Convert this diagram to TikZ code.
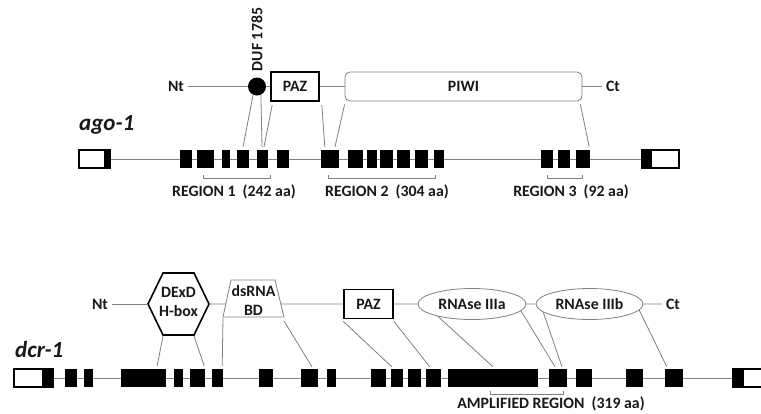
\documentclass[tikz,border=0pt]{standalone}
\usepackage{fontspec}
\setmainfont{Carlito}
\usetikzlibrary{shapes.geometric,calc}
\definecolor{linegray}{gray}{0.5}
\definecolor{textgray}{gray}{0.1}
\tikzset{
    exon/.style={fill=black, inner sep=0pt, minimum height=18pt},
    utr/.style={draw=black, line width=1.6pt, fill=white, inner sep=0pt, minimum height=18pt},
    conn/.style={draw=linegray, line width=0.8pt},
    boxdomain/.style={draw=black, line width=1.6pt, fill=white, inner sep=0pt},
    softdomain/.style={draw=linegray, line width=0.8pt, fill=white, inner sep=0pt},
    terminal/.style={inner sep=4pt},
    genename/.style={font=\fontsize{23}{26}\selectfont\bfseries\itshape, inner sep=0pt, anchor=base west}
}
\begin{document}
\begin{tikzpicture}[x=1pt, y=-1pt, font=\fontsize{15.8}{19}\selectfont\bfseries, text=textgray]
    \fill[white] (0,0) rectangle (761,413);
    \useasboundingbox (0,0) rectangle (761,413);

    % ago-1 gene
    \node[genename] (agoName) at (79,130) {ago-1};
    \node[utr, minimum width=31pt] (aUtrL) at (94.5,159) {};
    \node[utr, minimum width=37pt] (aUtrR) at (660.5,159) {};
    \fill ($(aUtrL.north east)+(-7,0)$) rectangle (aUtrL.south east);
    \fill (aUtrR.north west) rectangle ($(aUtrR.south west)+(11,0)$);
    \draw[conn] (aUtrL.east) -- (aUtrR.west);
    \foreach \x/\w [count=\i] in {186/12, 205.5/17, 226/8, 243/12, 262.5/11, 283/12,
        330/18, 355.5/15, 372/10, 386.5/13, 403.5/13, 421.5/13, 439/10,
        547/12, 564/12, 583/14}
        \node[exon, minimum width=\w pt] (a\i) at (\x,159) {};

    % ago-1 protein
    \node[terminal] (aNt) at (176,86.5) {Nt};
    \node[circle, fill=black, minimum size=18pt, inner sep=0pt] (duf) at (257,86.5) {};
    \node[rotate=90, anchor=west, inner sep=6pt] (dufName) at (duf.north) {DUF 1785};
    \node[boxdomain, minimum width=48pt, minimum height=29pt] (aPaz) at (295,86.5) {PAZ};
    \node[softdomain, rounded corners=5pt, minimum width=237pt, minimum height=29pt] (piwi) at (463.5,86.5) {PIWI};
    \node[terminal] (aCt) at (613,86.5) {Ct};
    \draw[conn] (aNt) -- (duf) -- (aPaz) -- (piwi) -- (aCt);

    % ago-1 domains to exons
    \draw[conn] (duf.-115) -- ([yshift=3pt]a4.north);
    \draw[conn] (duf.-65) -- ([xshift=-0.5pt, yshift=3pt]a5.north);
    \draw[conn] ([xshift=2pt, yshift=-3pt]aPaz.south west) -- ([xshift=1.5pt, yshift=3pt]a5.north);
    \draw[conn] ([xshift=2pt, yshift=-3pt]aPaz.south east) -- ([xshift=4pt, yshift=3pt]a7.north west);
    \draw[conn] ([yshift=-3pt]piwi.south west) -- ([xshift=5pt, yshift=3pt]a7.north);
    \draw[conn] ([xshift=-2pt, yshift=-3pt]piwi.south east) -- ([xshift=-1pt, yshift=3pt]a16.north east);

    % ago-1 regions
    \draw[conn] (203,175) -- (203,178) -- (270,178) -- (270,175);
    \draw[conn] (328,175) -- (328,178) -- (435,178) -- (435,175);
    \draw[conn] (547,175) -- (547,178) -- (582,178) -- (582,175);
    \node (region1) at (234,192) {REGION 1~~(242 aa)};
    \node (region2) at (387,192) {REGION 2~~(304 aa)};
    \node (region3) at (571,192) {REGION 3~~(92 aa)};

    % dcr-1 gene
    \node[genename] (dcrName) at (15,357) {dcr-1};
    \node[utr, minimum width=39pt] (dUtrL) at (33.5,378) {};
    \node[utr, minimum width=29pt] (dUtrR) at (747.5,378) {};
    \fill ($(dUtrL.north east)+(-12,0)$) rectangle (dUtrL.south east);
    \fill (dUtrR.north west) rectangle ($(dUtrR.south west)+(12,0)$);
    \draw[conn] (dUtrL.east) -- (dUtrR.west);
    \foreach \x/\w [count=\i] in {71/12, 88.5/9, 143.5/45, 178.5/9, 197.5/15, 217.5/11,
        266/14, 309.5/17, 331.5/9, 378.5/15, 397/12, 414.5/13, 433.5/15,
        493/90, 558/18, 584/16, 634.5/17, 674/18}
        \node[exon, minimum width=\w pt] (d\i) at (\x,378) {};

    % dcr-1 protein
    \node[terminal] (dNt) at (100,304) {Nt};
    \coordinate (hexW) at (148,304);
    \coordinate (hexNW) at (163,273);
    \coordinate (hexNE) at (194,273);
    \coordinate (hexE) at (209,304);
    \coordinate (hexSE) at (194,335);
    \coordinate (hexSW) at (163,335);
    \draw[line width=1.6pt, fill=white] (hexW) -- (hexNW) -- (hexNE) -- (hexE) -- (hexSE) -- (hexSW) -- cycle;
    \node[align=center, inner sep=0pt] (helicase) at (178.5,302) {DExD\\H-box};
    \coordinate (trapNW) at (231,280);
    \coordinate (trapNE) at (275,280);
    \coordinate (trapSE) at (284,317);
    \coordinate (trapSW) at (223,317);
    \draw[draw=linegray, line width=0.8pt, fill=white] (trapNW) -- (trapNE) -- (trapSE) -- (trapSW) -- cycle;
    \node[align=center, inner sep=0pt] (dsrbd) at (253.5,300) {dsRNA\\BD};
    \coordinate (trapW) at ($(trapNW)!0.65!(trapSW)$);
    \coordinate (trapE) at ($(trapNE)!0.65!(trapSE)$);
    \node[boxdomain, minimum width=49pt, minimum height=29pt] (dPaz) at (368.5,304) {PAZ};
    \node[softdomain, ellipse, minimum width=108pt, minimum height=31pt] (rnaseA) at (472,304) {RNAse IIIa};
    \node[softdomain, ellipse, minimum width=107pt, minimum height=31pt] (rnaseB) at (589.5,304) {RNAse IIIb};
    \node[terminal] (dCt) at (673,304) {Ct};
    \draw[conn] (dNt) -- (hexW);
    \draw[conn] (hexE) -- (trapW);
    \draw[conn] (trapE) -- (dPaz) -- (rnaseA) -- (rnaseB) -- (dCt);

    % dcr-1 domains to exons
    \draw[conn] ([yshift=-1pt]hexSW) -- ([xshift=-9pt, yshift=3pt]d3.north east);
    \draw[conn] ([yshift=-1pt]hexSE) -- ([xshift=-1pt, yshift=3pt]d5.north east);
    \draw[conn] ([yshift=-1pt]trapSW) -- ([xshift=-1pt, yshift=3pt]d6.north east);
    \draw[conn] ([yshift=-4pt]trapSE) -- ([xshift=2.5pt, yshift=2pt]d8.north);
    \draw[conn] ([yshift=-2pt]dPaz.south west) -- ([xshift=1pt, yshift=2pt]d11.north west);
    \draw[conn] ([yshift=-2pt]dPaz.south east) -- ([xshift=4pt, yshift=2pt]d13.north west);
    \draw[conn] (rnaseA.-160) -- ([yshift=2pt]d14.north);
    \draw[conn] (rnaseA.-8) -- ([xshift=-3pt, yshift=2pt]d15.north);
    \draw[conn] (rnaseB.-170) -- ([xshift=4pt, yshift=2pt]d15.north);
    \draw[conn] (rnaseB.-7) -- ([xshift=2pt, yshift=2pt]d18.north west);

    % dcr-1 region
    \draw[conn] (490,391) -- (490,394) -- (563,394) -- (563,391);
    \node[inner sep=1pt] (amplified) at (551,404) {AMPLIFIED REGION~~(319 aa)};
\end{tikzpicture}
\end{document}
